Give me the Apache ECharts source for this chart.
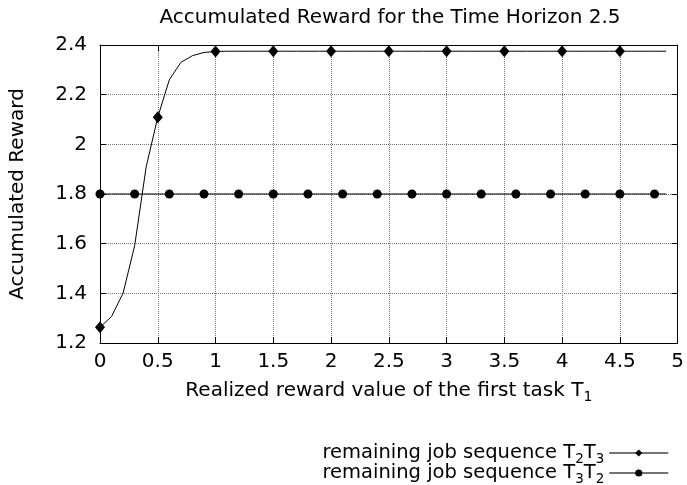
<!DOCTYPE html>
<html>
<head>
<meta charset="utf-8">
<script src="https://cdn.jsdelivr.net/npm/echarts@6/dist/echarts.min.js"></script>
<style>
html,body{margin:0;padding:0;background:#fff;}
#c{width:687px;height:485px;}
</style>
</head>
<body>
<div id="c"></div>
<script>
// ---- data ----
var titleText = 'Accumulated Reward for the Time Horizon 2.5';
var xValues = [0,0.1,0.2,0.3,0.4,0.5,0.6,0.7,0.8,0.9,
               1,1.1,1.2,1.3,1.4,1.5,1.6,1.7,1.8,1.9,
               2,2.1,2.2,2.3,2.4,2.5,2.6,2.7,2.8,2.9,
               3,3.1,3.2,3.3,3.4,3.5,3.6,3.7,3.8,3.9,
               4,4.1,4.2,4.3,4.4,4.5,4.6,4.7,4.8,4.9];
// remaining job sequence T2T3
var seqT2T3 = [1.263,1.307,1.401,1.592,1.91,2.109,2.26,2.33,2.357,2.370,
               2.374,2.375,2.375,2.375,2.375,2.375,2.375,2.375,2.375,2.375,
               2.375,2.375,2.375,2.375,2.375,2.375,2.375,2.375,2.375,2.375,
               2.375,2.375,2.375,2.375,2.375,2.375,2.375,2.375,2.375,2.375,
               2.375,2.375,2.375,2.375,2.375,2.375,2.375,2.375,2.375,2.375];
// remaining job sequence T3T2
var seqT3T2 = [1.8,1.8,1.8,1.8,1.8,1.8,1.8,1.8,1.8,1.8,
               1.8,1.8,1.8,1.8,1.8,1.8,1.8,1.8,1.8,1.8,
               1.8,1.8,1.8,1.8,1.8,1.8,1.8,1.8,1.8,1.8,
               1.8,1.8,1.8,1.8,1.8,1.8,1.8,1.8,1.8,1.8,
               1.8,1.8,1.8,1.8,1.8,1.8,1.8,1.8,1.8,1.8];
var markersT2T3 = [0,0.5,1,1.5,2,2.5,3,3.5,4,4.5];
var markersT3T2 = [0,0.3,0.6,0.9,1.2,1.5,1.8,2.1,2.4,2.7,3,3.3,3.6,3.9,4.2,4.5,4.8];
var seriesNames = ['T2T3','T3T2'];
var legendLabels = {
  'T2T3': '{a|remaining job sequence T}{s|2}{a|T}{s|3}',
  'T3T2': '{a|remaining job sequence T}{s|3}{a|T}{s|2}'
};
var xName = '{a|Realized reward value of the first task T}{s|1}';
var yName = 'Accumulated Reward';

// ---- build ----
var FONT = 'DejaVu Sans';
var FS = 20;
var richSub = {
  a: {fontFamily: FONT, fontSize: FS, color: '#000'},
  s: {fontFamily: FONT, fontSize: 14, color: '#000', padding: [12, 0, 0, 0]}
};
var richLegend = {
  a: {fontFamily: FONT, fontSize: 19.5, color: '#000'},
  s: {fontFamily: FONT, fontSize: 13.5, color: '#000', padding: [12, 0, 0, 0]}
};
function hasMarker(list, x) {
  return list.some(function (m) { return Math.abs(m - x) < 1e-9; });
}
function build(vals, markers, sym) {
  return xValues.map(function (x, i) {
    return {value: [x, vals[i]], symbol: hasMarker(markers, x) ? sym : 'none'};
  });
}
var chart = echarts.init(document.getElementById('c'), null, {renderer: 'canvas'});
var axisCommon = {
  axisLine: {show: true, onZero: false, lineStyle: {color: '#000', width: 1}},
  axisTick: {show: true, inside: true, length: 6, lineStyle: {color: '#000'}}
};
var legendCommon = {
  orient: 'vertical', right: 13, align: 'right',
  itemWidth: 59, itemHeight: 9, itemGap: 0,
  formatter: function (n) { return legendLabels[n]; },
  textStyle: {rich: richLegend},
  lineStyle: {width: 1.5, color: '#444'}
};
chart.setOption({
  backgroundColor: '#fff',
  animation: false,
  title: {
    text: titleText,
    left: 385, top: 3, textAlign: 'center',
    textStyle: {fontFamily: FONT, fontSize: FS, fontWeight: 'normal', color: '#000'}
  },
  legend: [
    Object.assign({data: [seriesNames[0]], top: 438}, legendCommon),
    Object.assign({data: [seriesNames[1]], top: 458}, legendCommon)
  ],
  grid: {left: 97, right: 9, top: 45, bottom: 142, containLabel: false},
  xAxis: [
    Object.assign({
      type: 'value', min: 0, max: 5, interval: 0.5, position: 'bottom',
      name: xName, nameLocation: 'middle', nameGap: 35,
      nameTextStyle: {rich: richSub},
      axisLabel: {fontFamily: FONT, fontSize: FS, color: '#000', margin: 9},
      splitLine: {show: true, lineStyle: {color: '#777', type: 'dotted', width: 1}}
    }, axisCommon),
    Object.assign({
      type: 'value', min: 0, max: 5, interval: 0.5, position: 'top',
      axisLabel: {show: false}, splitLine: {show: false}
    }, axisCommon)
  ],
  yAxis: [
    Object.assign({
      type: 'value', min: 1.2, max: 2.4, interval: 0.2, position: 'left',
      name: yName, nameLocation: 'middle', nameGap: 72,
      nameTextStyle: {fontFamily: FONT, fontSize: FS, color: '#000'},
      axisLabel: {fontFamily: FONT, fontSize: FS, color: '#000', margin: 13},
      splitLine: {show: true, lineStyle: {color: '#777', type: 'dotted', width: 1}}
    }, axisCommon),
    Object.assign({
      type: 'value', min: 1.2, max: 2.4, interval: 0.2, position: 'right',
      axisLabel: {show: false}, splitLine: {show: false}
    }, axisCommon)
  ],
  series: [
    {
      name: seriesNames[0], type: 'line', xAxisIndex: 0, yAxisIndex: 0,
      data: build(seqT2T3, markersT2T3, 'diamond'),
      symbol: 'diamond', symbolSize: [10, 12], showAllSymbol: true,
      lineStyle: {color: '#000', width: 1}, itemStyle: {color: '#000'},
      z: 3
    },
    {
      name: seriesNames[1], type: 'line', xAxisIndex: 0, yAxisIndex: 0,
      data: build(seqT3T2, markersT3T2, 'circle'),
      symbol: 'circle', symbolSize: 9, showAllSymbol: true,
      lineStyle: {color: '#000', width: 1}, itemStyle: {color: '#000'},
      z: 3
    }
  ]
});
</script>
</body>
</html>
